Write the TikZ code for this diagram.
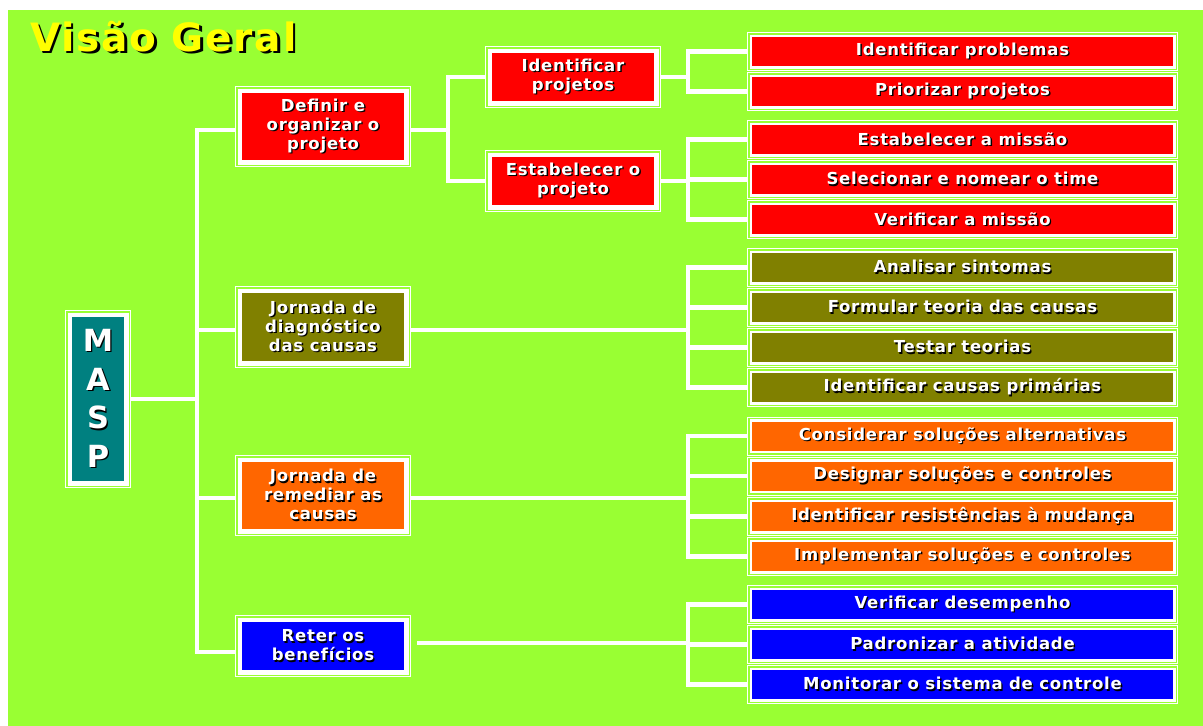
\documentclass[tikz,border=0pt]{standalone}
\usepackage{fontspec}
\setmainfont{DejaVu Sans}[LetterSpace=4.6]
\usepackage{tikz}

\definecolor{bggreen}{HTML}{99FF33}
\definecolor{mred}{HTML}{FF0000}
\definecolor{molive}{HTML}{808000}
\definecolor{morange}{HTML}{FF6600}
\definecolor{mblue}{HTML}{0000FF}
\definecolor{mteal}{HTML}{008080}
\definecolor{myellow}{HTML}{FFFF00}

% text with a dark drop shadow
\newcommand\sh[2][1.4pt]{\leavevmode\rlap{\kern#1\raisebox{-#1}{\color{black}#2}}#2}

\tikzset{
  conn/.style={draw=white, line width=4.5pt},
  ring/.style n args={3}{preaction={draw=white,line width=#1},
    preaction={draw=bggreen,line width=#2},
    preaction={draw=white,line width=#3}},
  bigbox/.style={fill=#1, ring={14pt}{12pt}{9pt}, outer sep=7pt, inner sep=2pt,
    minimum width=162pt, text=white, align=center,
    font=\bfseries\fontsize{16.5}{19}\selectfont},
  leaf/.style={fill=#1, ring={10pt}{8pt}{5pt}, outer sep=5pt, inner sep=0pt,
    minimum width=421pt, minimum height=29pt, text=white,
    font=\bfseries\fontsize{16.5}{19}\selectfont},
  heading/.style={anchor=base west, inner sep=0pt, text=myellow,
    font=\bfseries\fontsize{39}{42}\selectfont}
}

\begin{document}
\begin{tikzpicture}[x=1pt,y=-1pt]
\useasboundingbox (0,0) rectangle (1203,726);
\fill[white] (0,0) rectangle (1203,726);
\fill[bggreen] (8,10) rectangle (1203,726);

\node[heading] (ttl) at (30,51) {\sh[2.5pt]{Visão Geral}};

% root
\node[bigbox=mteal, minimum width=52pt, minimum height=164pt,
  font=\bfseries\fontsize{30.5}{38.7}\selectfont] (masp) at (98,399)
  {\sh{M}\\\sh{A}\\\sh{S}\\\sh{P}};

% first level
\node[bigbox=mred, minimum height=67pt] (def) at (323,126.5) {\sh{Definir e}\\\sh{organizar o}\\\sh{projeto}};
\node[bigbox=molive, minimum height=68pt] (diag) at (323,327) {\sh{Jornada de}\\\sh{diagnóstico}\\\sh{das causas}};
\node[bigbox=morange, minimum height=67pt] (rem) at (323,495.5) {\sh{Jornada de}\\\sh{remediar as}\\\sh{causas}};
\node[bigbox=mblue, minimum height=48pt] (ret) at (323,646) {\sh{Reter os}\\\sh{benefícios}};

% second level
\node[bigbox=mred, minimum height=48pt] (idp) at (573,77) {\sh{Identificar}\\\sh{projetos}};
\node[bigbox=mred, minimum height=48pt] (est) at (573,181) {\sh{Estabelecer o}\\\sh{projeto}};

% leaves
\node[leaf=mred] (l1) at (962.5,51.5) {\sh{Identificar problemas}};
\node[leaf=mred] (l2) at (962.5,91.5) {\sh{Priorizar projetos}};
\node[leaf=mred] (l3) at (962.5,139.5) {\sh{Estabelecer a missão}};
\node[leaf=mred] (l4) at (962.5,179.5) {\sh{Selecionar e nomear o time}};
\node[leaf=mred] (l5) at (962.5,219.5) {\sh{Verificar a missão}};
\node[leaf=molive] (l6) at (962.5,267.5) {\sh{Analisar sintomas}};
\node[leaf=molive] (l7) at (962.5,307.5) {\sh{Formular teoria das causas}};
\node[leaf=molive] (l8) at (962.5,347.5) {\sh{Testar teorias}};
\node[leaf=molive] (l9) at (962.5,387.5) {\sh{Identificar causas primárias}};
\node[leaf=morange] (l10) at (962.5,436) {\sh{Considerar soluções alternativas}};
\node[leaf=morange] (l11) at (962.5,476) {\sh{Designar soluções e controles}};
\node[leaf=morange] (l12) at (962.5,516.5) {\sh{Identificar resistências à mudança}};
\node[leaf=morange] (l13) at (962.5,556.5) {\sh{Implementar soluções e controles}};
\node[leaf=mblue] (l14) at (962.5,604.5) {\sh{Verificar desempenho}};
\node[leaf=mblue] (l15) at (962.5,644.5) {\sh{Padronizar a atividade}};
\node[leaf=mblue] (l16) at (962.5,684.5) {\sh{Monitorar o sistema de controle}};

% connectors
\draw[conn] (masp.east) -- ++(66,0) coordinate (t0);
\draw[conn] (t0) |- ([yshift=-3.5pt]def.west);
\draw[conn] (t0) |- ([yshift=-3pt]diag.west);
\draw[conn] (t0) |- ([yshift=-2.5pt]rem.west);
\draw[conn] (t0) |- ([yshift=-6pt]ret.west);

\draw[conn] ([yshift=-3.5pt]def.east) -- ++(37,0) coordinate (t1);
\draw[conn] (t1) |- (idp.west);
\draw[conn] (t1) |- (est.west);

\draw[conn] (idp.east) -- ++(27,0) coordinate (t2);
\draw[conn] (t2) |- (l1.west);
\draw[conn] (t2) |- (l2.west);

\draw[conn] (est.east) -- ++(27,0) coordinate (t3);
\draw[conn] (t3) |- (l3.west);
\draw[conn] (t3) |- (l4.west);
\draw[conn] (t3) |- (l5.west);

\draw[conn] ([yshift=-3pt]diag.east) -- ++(277,0) coordinate (t4);
\draw[conn] (t4) |- (l6.west);
\draw[conn] (t4) |- (l7.west);
\draw[conn] (t4) |- (l8.west);
\draw[conn] (t4) |- (l9.west);

\draw[conn] ([yshift=-2.5pt]rem.east) -- ++(277,0) coordinate (t5);
\draw[conn] (t5) |- (l10.west);
\draw[conn] (t5) |- (l11.west);
\draw[conn] (t5) |- (l12.west);
\draw[conn] (t5) |- (l13.west);

\draw[conn] ([xshift=6pt,yshift=3pt]ret.east) -- ++(271,0) coordinate (t6);
\draw[conn] (t6) |- (l14.west);
\draw[conn] (t6) |- (l15.west);
\draw[conn] (t6) |- (l16.west);
\end{tikzpicture}
\end{document}
